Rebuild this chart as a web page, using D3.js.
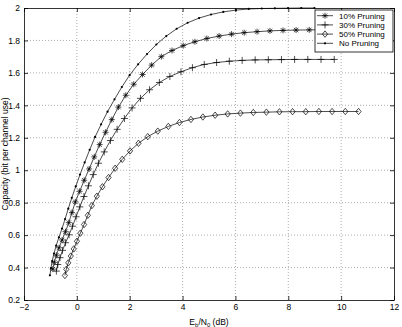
<!DOCTYPE html>
<html>
<head>
<meta charset="utf-8">
<script src="https://cdn.jsdelivr.net/npm/d3@7"></script>
<style>
  body { margin: 0; background: #fff; }
  svg { display: block; }
  text { font-family: "Liberation Sans", Arial, Helvetica, sans-serif; }
</style>
</head>
<body>
<div id="container"></div>
<script>
var xTicks = [-2, 0, 2, 4, 6, 8, 10, 12];
var yTicks = [0.2, 0.4, 0.6, 0.8, 1, 1.2, 1.4, 1.6, 1.8, 2];

var legendNames = ["10% Pruning", "30% Pruning", "50% Pruning", "No Pruning"];

// No pruning
var npX = [-1.02, -0.98, -0.935, -0.866, -0.784, -0.679, -0.562, -0.445, -0.325, -0.191,
  -0.042, 0.119, 0.296, 0.485, 0.690, 0.918, 1.161, 1.425, 1.702, 1.997,
  2.317, 2.655, 3.008, 3.383, 3.777, 4.192, 4.626, 5.077, 5.542, 6.018,
  6.503, 6.996, 7.493, 7.991, 8.490, 8.990];
var npY = [0.352, 0.396, 0.440, 0.486, 0.535, 0.586, 0.640, 0.699, 0.763, 0.830,
  0.900, 0.973, 1.048, 1.126, 1.205, 1.283, 1.361, 1.437, 1.513, 1.586,
  1.653, 1.716, 1.775, 1.827, 1.872, 1.909, 1.938, 1.960, 1.976, 1.987,
  1.994, 1.997, 1.998, 1.999, 2.000, 2.000];

// 10% pruning
var p10X = [-0.911, -0.855, -0.776, -0.677, -0.559, -0.431, -0.306, -0.186, -0.058, 0.105,
  0.278, 0.465, 0.658, 0.863, 1.087, 1.321, 1.573, 1.851, 2.153, 2.486,
  2.830, 3.196, 3.600, 4.025, 4.466, 4.918, 5.383, 5.854, 6.333, 6.819,
  7.307, 7.800, 8.295, 8.793, 9.291];
var p10Y = [0.390, 0.432, 0.476, 0.522, 0.570, 0.621, 0.677, 0.739, 0.805, 0.870,
  0.938, 1.008, 1.082, 1.158, 1.234, 1.312, 1.389, 1.462, 1.530, 1.590,
  1.648, 1.700, 1.738, 1.768, 1.792, 1.812, 1.827, 1.839, 1.848, 1.854,
  1.859, 1.862, 1.864, 1.865, 1.866];

// 30% pruning
var p30X = [-0.775, -0.722, -0.637, -0.542, -0.427, -0.296, -0.162, -0.031, 0.113, 0.268,
  0.438, 0.619, 0.817, 1.035, 1.270, 1.524, 1.798, 2.089, 2.407, 2.751,
  3.122, 3.519, 3.940, 4.373, 4.820, 5.288, 5.768, 6.254, 6.747, 7.244,
  7.742, 8.239, 8.739, 9.239, 9.739];
var p30Y = [0.378, 0.419, 0.461, 0.506, 0.553, 0.602, 0.655, 0.713, 0.774, 0.838,
  0.904, 0.973, 1.043, 1.113, 1.183, 1.252, 1.319, 1.384, 1.443, 1.496,
  1.541, 1.578, 1.607, 1.632, 1.652, 1.664, 1.672, 1.677, 1.680, 1.681,
  1.682, 1.683, 1.683, 1.683, 1.683];

// 50% pruning
var p50X = [-0.453, -0.399, -0.325, -0.230, -0.118, 0.003, 0.132, 0.272, 0.415, 0.568,
  0.757, 0.967, 1.200, 1.448, 1.718, 2.012, 2.333, 2.683, 3.062, 3.462,
  3.881, 4.317, 4.768, 5.232, 5.706, 6.190, 6.677, 7.171, 7.665, 8.161,
  8.661, 9.158, 9.658, 10.158, 10.658];
var p50Y = [0.351, 0.389, 0.429, 0.471, 0.515, 0.562, 0.612, 0.665, 0.722, 0.782,
  0.840, 0.898, 0.955, 1.012, 1.067, 1.119, 1.166, 1.207, 1.241, 1.270,
  1.294, 1.313, 1.328, 1.339, 1.347, 1.352, 1.356, 1.358, 1.360, 1.361,
  1.361, 1.362, 1.362, 1.362, 1.362];

function zip(xs, ys) {
  return xs.map(function(v, i) { return { x: v, y: ys[i] }; });
}

var series = [
  { name: legendNames[0], marker: "star", points: zip(p10X, p10Y) },
  { name: legendNames[1], marker: "plus", points: zip(p30X, p30Y) },
  { name: legendNames[2], marker: "diamond", points: zip(p50X, p50Y) },
  { name: legendNames[3], marker: "dot", points: zip(npX, npY) }
];

var markerPaths = {
  star: "M-3,0H3M0,-3V3M-2.2,-2.2L2.2,2.2M-2.2,2.2L2.2,-2.2",
  plus: "M-3.5,0H3.5M0,-3.5V3.5",
  diamond: "M0,-3.2L2.6,0L0,3.2L-2.6,0Z"
};

function drawMarker(sel, type) {
  if (type === "dot") {
    sel.append("circle").attr("r", 1.1).attr("fill", "#000");
  } else {
    sel.append("path")
      .attr("d", markerPaths[type])
      .attr("fill", "none")
      .attr("stroke", "#000")
      .attr("stroke-width", 0.7);
  }
}

var margin = {top: 8, right: 8, bottom: 27, left: 24},
    width = 402 - margin.left - margin.right,
    height = 327 - margin.top - margin.bottom;

var x = d3.scaleLinear().domain([-2, 12]).range([0, width]);
var y = d3.scaleLinear().domain([0.2, 2]).range([height, 0]);

var svg = d3.select("#container").append("svg")
    .attr("width", width + margin.left + margin.right)
    .attr("height", height + margin.top + margin.bottom);

var g = svg.append("g")
    .attr("transform", "translate(" + margin.left + "," + margin.top + ")");

// grid
g.selectAll(".gx").data(xTicks.slice(1, -1)).enter().append("line")
    .attr("x1", function(d) { return x(d); }).attr("x2", function(d) { return x(d); })
    .attr("y1", 0).attr("y2", height)
    .attr("stroke", "#999").attr("stroke-width", 0.8).attr("stroke-dasharray", "1,2");
g.selectAll(".gy").data(yTicks.slice(1, -1)).enter().append("line")
    .attr("y1", function(d) { return y(d); }).attr("y2", function(d) { return y(d); })
    .attr("x1", 0).attr("x2", width)
    .attr("stroke", "#999").attr("stroke-width", 0.8).attr("stroke-dasharray", "1,2");

// axes (MATLAB style box, inward ticks)
var fmtY = function(d) { return String(+d.toFixed(1)); };

g.append("g").attr("transform", "translate(0," + height + ")")
    .call(d3.axisBottom(x).tickValues(xTicks).tickSizeInner(-4).tickSizeOuter(0).tickPadding(4));
g.append("g")
    .call(d3.axisTop(x).tickValues(xTicks).tickSizeInner(-4).tickSizeOuter(0).tickFormat(""));
g.append("g")
    .call(d3.axisLeft(y).tickValues(yTicks).tickSizeInner(-4).tickSizeOuter(0).tickPadding(4).tickFormat(fmtY));
g.append("g").attr("transform", "translate(" + width + ",0)")
    .call(d3.axisRight(y).tickValues(yTicks).tickSizeInner(-4).tickSizeOuter(0).tickFormat(""));

g.selectAll(".tick text").attr("font-size", "8.5px").attr("fill", "#000");
g.selectAll(".domain").attr("stroke", "#000").attr("stroke-width", 0.8);
g.selectAll(".tick line").attr("stroke", "#000").attr("stroke-width", 0.8);

// series
var line = d3.line()
    .x(function(p) { return x(p.x); })
    .y(function(p) { return y(p.y); });

series.forEach(function(s) {
  g.append("path")
      .datum(s.points)
      .attr("d", line)
      .attr("fill", "none")
      .attr("stroke", "#000")
      .attr("stroke-width", 0.7);

  var m = g.selectAll(".m-" + s.marker)
      .data(s.points)
    .enter().append("g")
      .attr("class", "m-" + s.marker)
      .attr("transform", function(p) { return "translate(" + x(p.x) + "," + y(p.y) + ")"; });
  drawMarker(m, s.marker);
});

// legend
var lg = svg.append("g").attr("transform", "translate(315,10)");
lg.append("rect").attr("width", 78).attr("height", 42)
    .attr("fill", "#fff").attr("stroke", "#000").attr("stroke-width", 0.8);

var rows = lg.selectAll(".row").data(series).enter().append("g")
    .attr("class", "row")
    .attr("transform", function(d, i) { return "translate(0," + (5.7 + i * 9.2) + ")"; });
rows.append("line").attr("x1", 2).attr("x2", 18)
    .attr("stroke", "#000").attr("stroke-width", 0.7);
rows.each(function(d) {
  drawMarker(d3.select(this).append("g").attr("transform", "translate(10,0)"), d.marker);
});
rows.append("text").attr("x", 24).attr("y", 3)
    .attr("font-size", "8px")
    .text(function(d) { return d.name; });

// axis labels
svg.append("text")
    .attr("transform", "translate(8," + (margin.top + height / 2) + ") rotate(-90)")
    .attr("text-anchor", "middle")
    .attr("font-size", "8.5px")
    .text("Capacity (bit per channel use)");

var xl = svg.append("text")
    .attr("x", margin.left + width / 2)
    .attr("y", 325)
    .attr("text-anchor", "middle")
    .attr("font-size", "8.5px");
xl.append("tspan").text("E");
xl.append("tspan").attr("font-size", "6px").attr("dy", 2).text("b");
xl.append("tspan").attr("dy", -2).text("/N");
xl.append("tspan").attr("font-size", "6px").attr("dy", 2).text("0");
xl.append("tspan").attr("dy", -2).text(" (dB)");
</script>
</body>
</html>
